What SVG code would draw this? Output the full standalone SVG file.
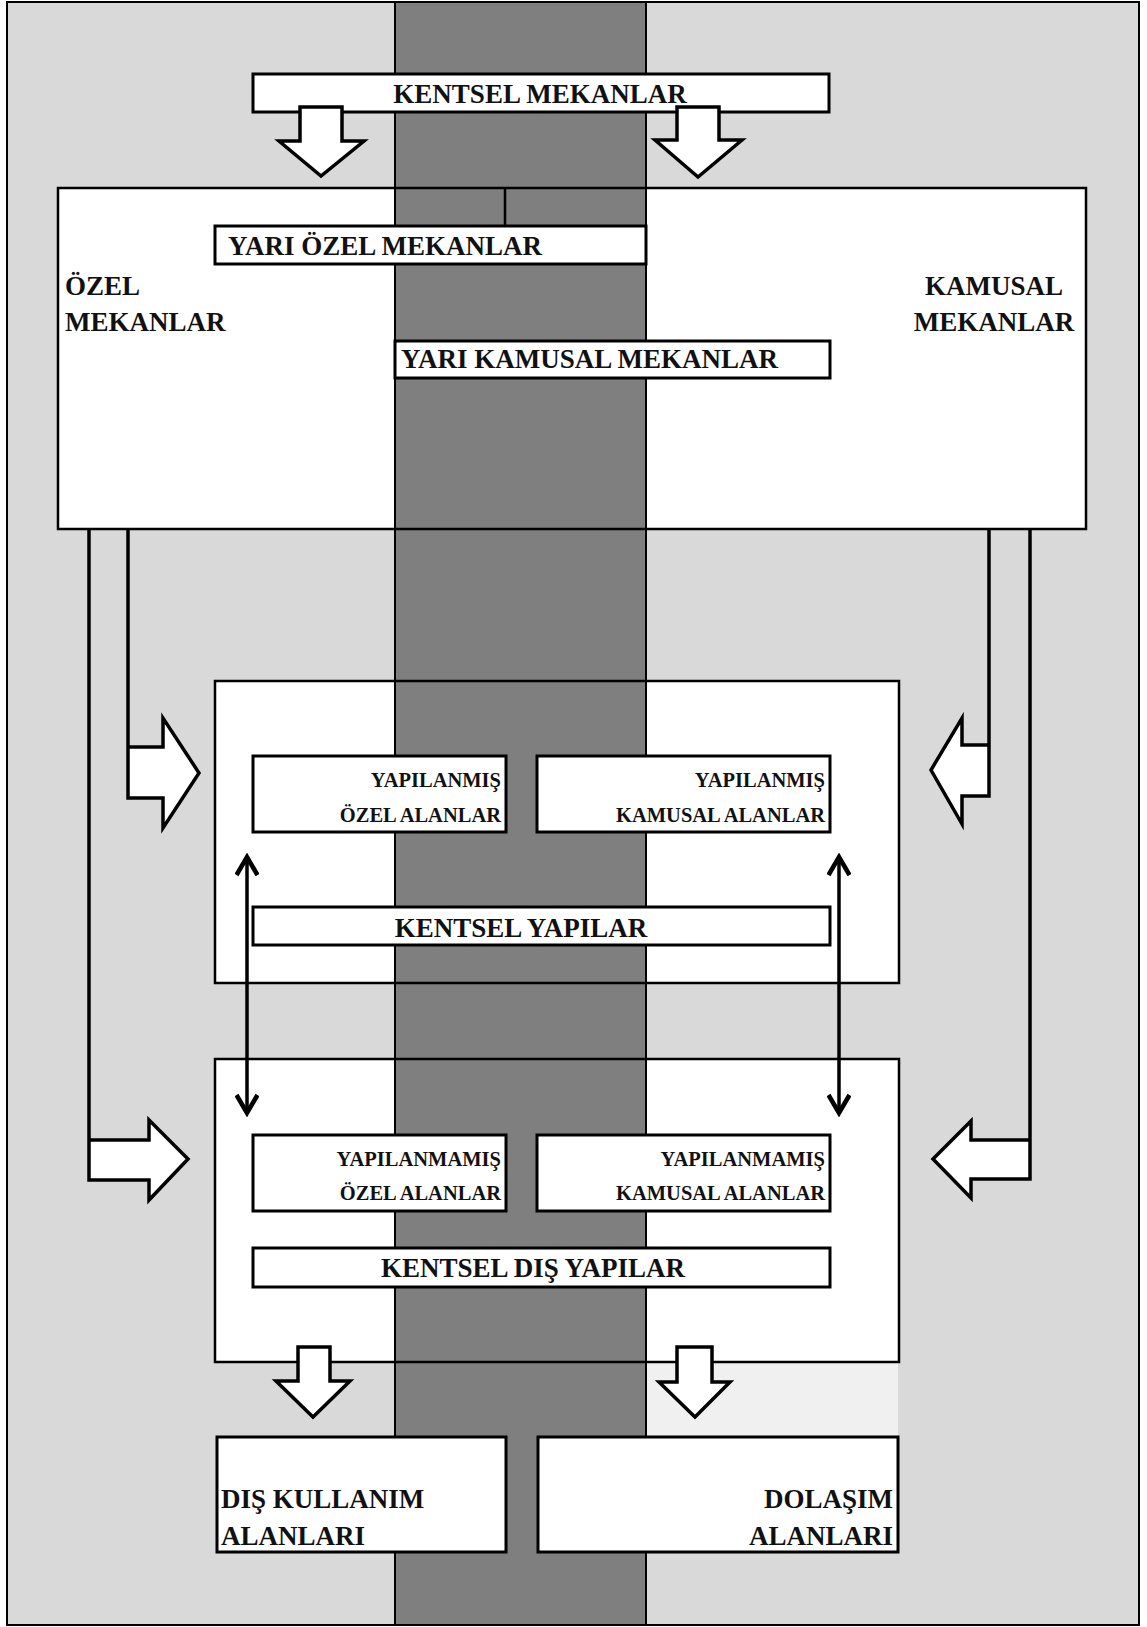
<svg xmlns="http://www.w3.org/2000/svg" width="1147" height="1627" viewBox="0 0 1147 1627">
<style>
.bg{fill:#d9d9d9;stroke:#000;stroke-width:2}
.strip{fill:#7f7f7f;stroke:#000;stroke-width:2}
.wf{fill:#fff;stroke:none}
.cont{fill:none;stroke:#000;stroke-width:2.5}
.lbl{fill:#fff;stroke:#000;stroke-width:3}
.barrow{fill:#fff;stroke:#000;stroke-width:3.5;stroke-linejoin:miter}
.line{fill:none;stroke:#000;stroke-width:3.5}
.t{font-family:"Liberation Serif","Times New Roman",serif;font-weight:bold;fill:#111}
.big{font-size:27px}
.sm{font-size:20.5px}
</style>
<defs>
<marker id="chev" viewBox="0 0 24 24" refX="21" refY="12" markerWidth="24" markerHeight="24" markerUnits="userSpaceOnUse" orient="auto-start-reverse">
<path d="M2,1.5 L20,12 L2,22.5" fill="none" stroke="#000" stroke-width="4.5"/>
</marker>
</defs>
<g id="background">
<rect class="bg" x="7" y="2" width="1132" height="1623"/>
<rect x="646" y="1362" width="252" height="75" fill="#f0f0f0"/>
</g>
<g id="node-mekanlar">
<rect class="wf" x="58" y="188" width="337" height="341"/>
<rect class="wf" x="646" y="188" width="440" height="341"/>
</g>
<g id="node-kentsel-yapilar-area">
<rect class="wf" x="215" y="681" width="180" height="302"/>
<rect class="wf" x="646" y="681" width="253" height="302"/>
</g>
<g id="node-kentsel-dis-yapilar-area">
<rect class="wf" x="215" y="1059" width="180" height="303"/>
<rect class="wf" x="646" y="1059" width="253" height="303"/>
</g>
<g id="strip">
<rect class="strip" x="395" y="2" width="251" height="1623"/>
</g>
<g id="containers">
<rect class="cont" x="58" y="188" width="1028" height="341"/>
<line class="cont" x1="505" y1="188" x2="505" y2="226"/>
<rect class="cont" x="215" y="681" width="684" height="302"/>
<rect class="cont" x="215" y="1059" width="684" height="303"/>
</g>
<g id="node-ozel-mekanlar">
<text class="t big" x="65" y="295">ÖZEL</text>
<text class="t big" x="65" y="331">MEKANLAR</text>
</g>
<g id="node-kamusal-mekanlar">
<text class="t big" x="994" y="295" text-anchor="middle">KAMUSAL</text>
<text class="t big" x="994" y="331" text-anchor="middle">MEKANLAR</text>
</g>
<g id="node-kentsel-mekanlar">
<rect class="lbl" x="253" y="74" width="576" height="38"/>
<text class="t big" x="540" y="103" text-anchor="middle">KENTSEL MEKANLAR</text>
</g>
<g id="node-yari-ozel">
<rect class="lbl" x="215" y="226" width="431" height="38"/>
<text class="t big" x="228" y="255">YARI ÖZEL MEKANLAR</text>
</g>
<g id="node-yari-kamusal">
<rect class="lbl" x="395" y="341" width="435" height="37"/>
<text class="t big" x="401" y="368">YARI KAMUSAL MEKANLAR</text>
</g>
<g id="node-yapilanmis-ozel">
<rect class="lbl" x="253" y="756" width="253" height="76"/>
<text class="t sm" x="501" y="787" text-anchor="end">YAPILANMIŞ</text>
<text class="t sm" x="501" y="822" text-anchor="end">ÖZEL ALANLAR</text>
</g>
<g id="node-yapilanmis-kamusal">
<rect class="lbl" x="537" y="756" width="293" height="76"/>
<text class="t sm" x="825" y="787" text-anchor="end">YAPILANMIŞ</text>
<text class="t sm" x="825" y="822" text-anchor="end">KAMUSAL ALANLAR</text>
</g>
<g id="node-kentsel-yapilar">
<rect class="lbl" x="253" y="907" width="577" height="38"/>
<text class="t big" x="521" y="937" text-anchor="middle">KENTSEL YAPILAR</text>
</g>
<g id="node-yapilanmamis-ozel">
<rect class="lbl" x="253" y="1135" width="253" height="76"/>
<text class="t sm" x="501" y="1166" text-anchor="end">YAPILANMAMIŞ</text>
<text class="t sm" x="501" y="1200" text-anchor="end">ÖZEL ALANLAR</text>
</g>
<g id="node-yapilanmamis-kamusal">
<rect class="lbl" x="537" y="1135" width="293" height="76"/>
<text class="t sm" x="825" y="1166" text-anchor="end">YAPILANMAMIŞ</text>
<text class="t sm" x="825" y="1200" text-anchor="end">KAMUSAL ALANLAR</text>
</g>
<g id="node-kentsel-dis-yapilar">
<rect class="lbl" x="253" y="1248" width="577" height="39"/>
<text class="t big" x="533" y="1277" text-anchor="middle">KENTSEL DIŞ YAPILAR</text>
</g>
<g id="node-dis-kullanim">
<rect class="lbl" x="217" y="1437" width="289" height="115"/>
<text class="t big" x="221" y="1508">DIŞ KULLANIM</text>
<text class="t big" x="221" y="1545">ALANLARI</text>
</g>
<g id="node-dolasim">
<rect class="lbl" x="538" y="1437" width="360" height="115"/>
<text class="t big" x="893" y="1508" text-anchor="end">DOLAŞIM</text>
<text class="t big" x="893" y="1545" text-anchor="end">ALANLARI</text>
</g>
<g id="connectors">
<path class="barrow" d="M300,107 H342 V141 H364 L321,176 L279,141 H300 Z"/>
<path class="barrow" d="M677,107 H719 V140 H742 L698,177 L655,140 H677 Z"/>
<path class="barrow" d="M298,1347 H330 V1381 H350 L313,1417 L276,1381 H298 Z"/>
<path class="barrow" d="M677,1347 H712 V1382 H730 L695,1417 L659,1382 H677 Z"/>
<path class="barrow" d="M128,529 V798 H163 V828 L199,773 L163,718 V747 H128"/>
<path class="barrow" d="M89,529 V1180 H149 V1200 L188,1159 L149,1120 V1140 H89"/>
<path class="barrow" d="M989,529 V796 H962 V824 L931,770 L962,718 V745 H989"/>
<path class="barrow" d="M1030,529 V1179 H971 V1198 L933,1159 L971,1121 V1140 H1030"/>
<line class="line" x1="247" y1="856" x2="247" y2="1114" marker-start="url(#chev)" marker-end="url(#chev)"/>
<line class="line" x1="839" y1="856" x2="839" y2="1114" marker-start="url(#chev)" marker-end="url(#chev)"/>
</g>
</svg>
